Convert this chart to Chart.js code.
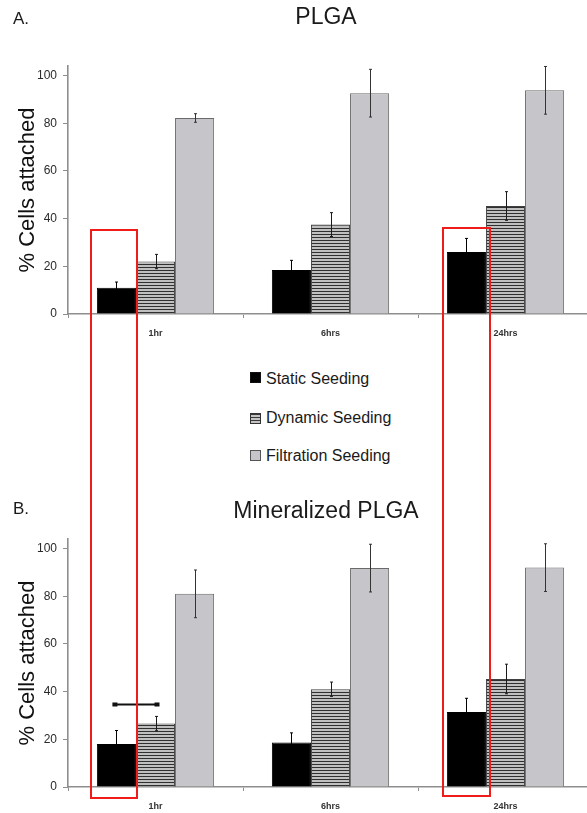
<!DOCTYPE html>
<html>
<head>
<meta charset="utf-8">
<script src="https://cdn.jsdelivr.net/npm/chart.js@4/dist/chart.umd.min.js"></script>
<style>
  html, body { margin: 0; padding: 0; background: #fff; overflow: hidden; }
  #page { position: relative; width: 587px; height: 813px; overflow: hidden;
          font-family: "Liberation Sans", Arial, Helvetica, sans-serif; color: #1a1a1a; }
  #page canvas { position: absolute; left: 0; }
  .txt { position: absolute; white-space: nowrap; line-height: 1; }
  .ctr { transform: translateX(-50%); }
  .sw { position: absolute; width: 9px; height: 9px; box-sizing: content-box; }
  .frame { position: absolute; border: 2px solid #f01c1c; box-sizing: border-box; pointer-events: none; }
</style>
</head>
<body>
<div id="page">
  <canvas id="chartA" width="600" height="340" style="top:0px"></canvas>
  <canvas id="chartB" width="600" height="340" style="top:473px"></canvas>

  <div class="txt" style="left:13px; top:9.6px; font-size:17px;">A.</div>
  <div class="txt ctr" style="left:326px; top:4.5px; font-size:23px;">PLGA</div>
  <div class="txt" style="left:13px; top:499.6px; font-size:17px;">B.</div>
  <div class="txt ctr" style="left:326px; top:498.5px; font-size:23px;">Mineralized PLGA</div>

  <div class="sw" style="left:250px; top:372px; background:#000; border:1px solid #111;"></div>
  <div class="txt" id="leg0" style="left:266px; top:370.5px; font-size:16px;"></div>
  <div class="sw" style="left:250px; top:413px; border:1px solid #333;
       background:repeating-linear-gradient(to bottom,#3a3a3a 0px,#3a3a3a 1px,#c4c4c4 1px,#c4c4c4 3px);"></div>
  <div class="txt" id="leg1" style="left:266px; top:409.8px; font-size:16px;"></div>
  <div class="sw" style="left:250px; top:450px; background:#c6c6ca; border:1px solid #555;"></div>
  <div class="txt" id="leg2" style="left:266px; top:447.5px; font-size:16px;"></div>

  <div class="frame" id="frame1"></div>
  <div class="frame" id="frame2"></div>
</div>

<script>
// Time points and seeding methods
const categories = ['1hr', '6hrs', '24hrs'];
const seriesNames = ['Static Seeding', 'Dynamic Seeding', 'Filtration Seeding'];

// Panel A: PLGA (% cells attached, mean and +/- error)
const plgaStatic = [11, 18.5, 26];
const plgaStaticErr = [2.4, 4, 5.7];
const plgaDynamic = [22, 37.5, 45.3];
const plgaDynamicErr = [3, 5, 6];
const plgaFiltration = [82.2, 92.6, 93.8];
const plgaFiltrationErr = [1.8, 10, 10];

// Panel B: Mineralized PLGA
const minStatic = [18, 18.7, 31.5];
const minStaticErr = [5.7, 4, 5.7];
const minDynamic = [26.6, 41, 45.3];
const minDynamicErr = [3, 3, 6.2];
const minFiltration = [81, 91.8, 92];
const minFiltrationErr = [10, 10, 10];

// Y axis ticks
const yTickValues = [0, 20, 40, 60, 80, 100];

// Significance bracket height in panel B (between static and dynamic at 1hr)
const bracketValue = 34.6;

seriesNames.forEach((n, i) => { document.getElementById('leg' + i).textContent = n; });

const FONT = '"Liberation Sans", Arial, Helvetica, sans-serif';
const CANVAS_W = 600;
const PLOT_RIGHT = 593;

function stripePattern() {
  const c = document.createElement('canvas');
  c.width = 4; c.height = 3;
  const g = c.getContext('2d');
  g.fillStyle = '#c0c0c0'; g.fillRect(0, 0, 4, 3);
  g.fillStyle = '#303030'; g.fillRect(0, 0, 4, 1);
  return g.createPattern(c, 'repeat');
}

// Vertical error bars drawn with the chart's own scales
const errorBars = {
  id: 'errorBars',
  afterDatasetsDraw(chart) {
    const ctx = chart.ctx, y = chart.scales.y;
    chart.data.datasets.forEach((ds, i) => {
      const meta = chart.getDatasetMeta(i);
      meta.data.forEach((bar, j) => {
        const v = ds.data[j], e = ds.errors[j];
        const yt = y.getPixelForValue(v + e), yb = y.getPixelForValue(v - e);
        const x = Math.round(bar.x) + 0.5;
        ctx.save();
        ctx.strokeStyle = ds.errorColor;
        ctx.lineWidth = 1;
        ctx.beginPath();
        ctx.moveTo(x, yt); ctx.lineTo(x, yb);
        ctx.moveTo(x - 1.5, yt); ctx.lineTo(x + 1.5, yt);
        ctx.moveTo(x - 1.5, yb); ctx.lineTo(x + 1.5, yb);
        ctx.stroke();
        ctx.restore();
      });
    });
  }
};

// Bracket joining two bars at a given value
const bracket = {
  id: 'bracket',
  afterDatasetsDraw(chart, args, opts) {
    if (!opts || opts.value == null) return;
    const ctx = chart.ctx;
    const a = chart.getDatasetMeta(opts.from[0]).data[opts.from[1]];
    const b = chart.getDatasetMeta(opts.to[0]).data[opts.to[1]];
    const yy = chart.scales.y.getPixelForValue(opts.value);
    ctx.save();
    ctx.strokeStyle = '#111';
    ctx.lineWidth = 2.2;
    ctx.beginPath();
    ctx.moveTo(a.x - 3, yy); ctx.lineTo(b.x + 2, yy);
    ctx.stroke();
    ctx.fillStyle = '#111';
    ctx.fillRect(a.x - 4, yy - 2, 5, 4);
    ctx.fillRect(b.x - 1, yy - 2, 5, 4);
    ctx.restore();
  }
};

function makeChart(id, s, se, d, de, f, fe, extraPlugins) {
  const stripes = stripePattern();
  return new Chart(document.getElementById(id), {
    type: 'bar',
    data: {
      labels: categories,
      datasets: [
        { label: seriesNames[0], data: s, errors: se, errorColor: '#000',
          backgroundColor: '#000', borderColor: '#000', borderWidth: 1 },
        { label: seriesNames[1], data: d, errors: de, errorColor: '#1a1a1a',
          backgroundColor: stripes, borderColor: '#404040', borderWidth: 1 },
        { label: seriesNames[2], data: f, errors: fe, errorColor: '#333',
          backgroundColor: '#c6c6ca', borderColor: '#6a6a6a', borderWidth: 1 }
      ]
    },
    options: {
      responsive: false,
      animation: false,
      events: [],
      layout: { padding: { top: 66, right: CANVAS_W - PLOT_RIGHT, left: 0, bottom: 0 } },
      datasets: { bar: { categoryPercentage: 0.67, barPercentage: 1.0 } },
      plugins: {
        legend: { display: false },
        tooltip: { enabled: false },
        bracket: extraPlugins || {}
      },
      scales: {
        x: {
          offset: true,
          afterFit(scale) { scale.height = 26; },
          border: { display: true, color: '#8e8e8e', width: 1.6 },
          grid: { display: true, offset: true, drawOnChartArea: false, drawTicks: true,
                  tickLength: 4, color: '#8e8e8e', lineWidth: 1 },
          ticks: { color: '#333', padding: 10, font: { family: FONT, size: 9, weight: 'bold' } }
        },
        y: {
          min: 0, max: 104,
          afterFit(scale) { scale.width = 68; },
          afterBuildTicks(scale) { scale.ticks = yTickValues.map(v => ({ value: v })); },
          border: { display: true, color: '#8e8e8e', width: 1.6 },
          grid: { display: true, drawOnChartArea: false, drawTicks: true, tickLength: 5,
                  color: '#8e8e8e', lineWidth: 1 },
          ticks: { color: '#2a2a2a', padding: 6, font: { family: FONT, size: 12 } },
          title: { display: true, text: '% Cells attached', color: '#111',
                   padding: { top: 15, bottom: 0 }, font: { family: FONT, size: 22 } }
        }
      }
    },
    plugins: [errorBars, bracket]
  });
}

const chartA = makeChart('chartA', plgaStatic, plgaStaticErr, plgaDynamic, plgaDynamicErr,
                         plgaFiltration, plgaFiltrationErr, null);
const chartB = makeChart('chartB', minStatic, minStaticErr, minDynamic, minDynamicErr,
                         minFiltration, minFiltrationErr,
                         { value: bracketValue, from: [0, 0], to: [1, 0] });

// Red highlight frames around the static-seeding bars (1hr and 24hrs), spanning both panels
const topA = 0, topB = 473;
function placeFrame(el, idx, padL, padR, topVal, bottomVal) {
  const bar = chartA.getDatasetMeta(0).data[idx];
  const half = bar.width / 2;
  const left = bar.x - half - padL;
  const right = bar.x + half + padR;
  const top = topA + chartA.scales.y.getPixelForValue(topVal);
  const bottom = topB + chartB.scales.y.getPixelForValue(bottomVal);
  el.style.left = left + 'px';
  el.style.width = (right - left) + 'px';
  el.style.top = top + 'px';
  el.style.height = (bottom - top) + 'px';
}
placeFrame(document.getElementById('frame1'), 0, 7, 2, 35.6, -5.2);
placeFrame(document.getElementById('frame2'), 2, 5, 5, 36.4, -4.4);
</script>
</body>
</html>
